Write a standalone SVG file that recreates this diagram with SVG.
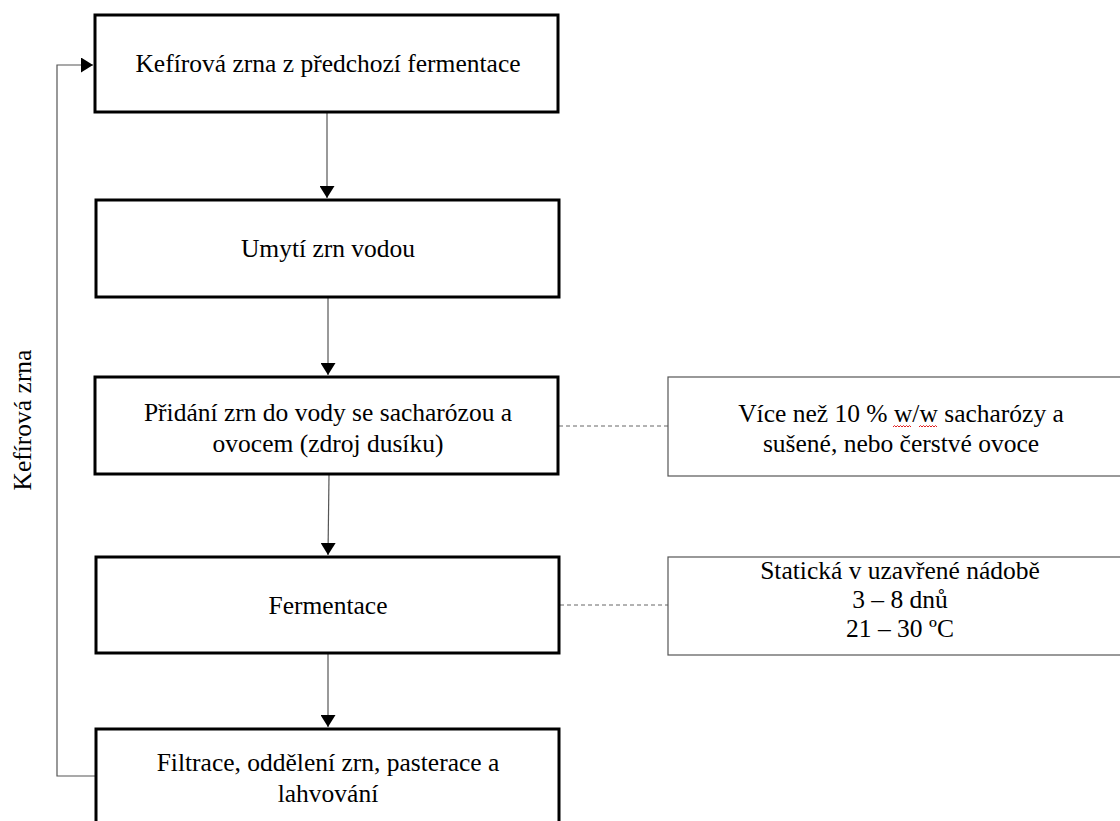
<svg xmlns="http://www.w3.org/2000/svg" width="1120" height="821" viewBox="0 0 1120 821">
<style>
.box{fill:#fff;stroke:#000;stroke-width:3}
.note{fill:#fff;stroke:#555;stroke-width:1.2}
.t{font-family:"Liberation Serif","Times New Roman",serif;font-size:25.5px;fill:#000;text-anchor:middle}
.con{fill:none;stroke:#555;stroke-width:1.2}
.dash{fill:none;stroke:#666;stroke-width:1;stroke-dasharray:4 3}
.sq{fill:none;stroke:#e02020;stroke-width:1}
</style>
<defs>
<marker id="ah" markerUnits="userSpaceOnUse" markerWidth="13" markerHeight="15" refX="12" refY="7.5" orient="auto">
<path d="M0,0 L12,7.5 L0,15 z" fill="#000"/>
</marker>
</defs>
<rect width="1120" height="821" fill="#fff"/>
<g id="connectors">
<line class="con" x1="327" y1="113" x2="327" y2="198" marker-end="url(#ah)"/>
<line class="con" x1="328" y1="298" x2="328" y2="375" marker-end="url(#ah)"/>
<line class="con" x1="329" y1="475" x2="328" y2="555" marker-end="url(#ah)"/>
<line class="con" x1="328" y1="654" x2="328" y2="727" marker-end="url(#ah)"/>
<path class="con" d="M96,776 H57 V65 H93" marker-end="url(#ah)"/>
<line class="dash" x1="559" y1="426" x2="668" y2="426"/>
<line class="dash" x1="560" y1="605" x2="668" y2="605"/>
</g>
<g id="n1">
<rect class="box" x="95" y="15" width="463" height="97"/>
<text class="t" x="328" y="72">Kefírová zrna z předchozí fermentace</text>
</g>
<g id="n2">
<rect class="box" x="96" y="200" width="463" height="97"/>
<text class="t" x="328" y="257">Umytí zrn vodou</text>
</g>
<g id="n3">
<rect class="box" x="95" y="377" width="463" height="97"/>
<text class="t" x="328" y="421">Přidání zrn do vody se sacharózou a</text>
<text class="t" x="328" y="452">ovocem (zdroj dusíku)</text>
</g>
<g id="n4">
<rect class="box" x="96" y="557" width="463" height="96"/>
<text class="t" x="328" y="614">Fermentace</text>
</g>
<g id="n5">
<rect class="box" x="96" y="729" width="463" height="120"/>
<text class="t" x="328" y="771">Filtrace, oddělení zrn, pasterace a</text>
<text class="t" x="328" y="802">lahvování</text>
</g>
<g id="noteA">
<rect class="note" x="668" y="377" width="470" height="99"/>
<text class="t" x="901" y="422">Více než 10 % w/w sacharózy a</text>
<text class="t" x="901" y="452">sušené, nebo čerstvé ovoce</text>
<path class="sq" d="M893,427 l1.5,-1.5 l1.5,1.5 l1.5,-1.5 l1.5,1.5 l1.5,-1.5 l1.5,1.5 l1.5,-1.5 l1.5,1.5 l1.5,-1.5 l1.5,1.5 l1.5,-1.5 l1.5,1.5"/>
<path class="sq" d="M919,427 l1.5,-1.5 l1.5,1.5 l1.5,-1.5 l1.5,1.5 l1.5,-1.5 l1.5,1.5 l1.5,-1.5 l1.5,1.5 l1.5,-1.5 l1.5,1.5 l1.5,-1.5 l1.5,1.5"/>
</g>
<g id="noteB">
<rect class="note" x="668" y="557" width="470" height="98"/>
<text class="t" x="900" y="579">Statická v uzavřené nádobě</text>
<text class="t" x="900" y="608">3 – 8 dnů</text>
<text class="t" x="900" y="637">21 – 30 ºC</text>
</g>
<g id="label-loop">
<text class="t" transform="translate(31,420) rotate(-90)">Kefírová zrna</text>
</g>
</svg>
